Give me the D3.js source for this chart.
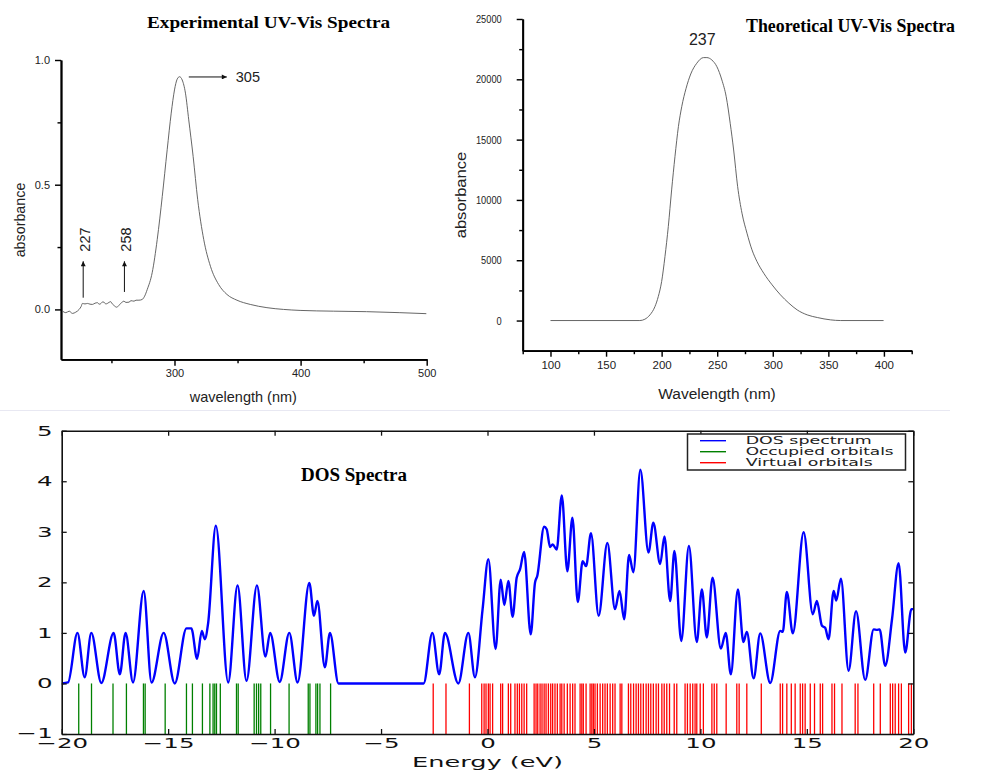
<!DOCTYPE html>
<html><head><meta charset="utf-8">
<script src="https://cdn.jsdelivr.net/npm/d3@7"></script>
<style>
html,body{margin:0;padding:0;background:#fff;}
svg{display:block;}
</style></head><body>
<svg id="c" width="985" height="776"></svg>
<script>
// ---------------- DATA ----------------
// Experimental UV-Vis (wavelength nm, absorbance)
const expWavelength = [211.2,213.8,216.5,219.1,221.7,224.4,226.0,227,229,231,233,234.9,237,238.9,240.2,241.5,243,244.1,245.5,246.8,248,249.4,250.7,252,254.1,255.5,257.3,258.6,259.9,261.5,263.9,265.5,267.9,269.5,271.8,274.4,276.3,278.4,282.3,286.3,290.3,294.2,297.4,300,302.1,304.0,306.1,308.7,311.3,314.8,318.4,323.2,328.5,335,341.6,349.5,360.1,373.3,386.4,399.6,426,452.3,478.7,499.7];
const expAbsorbance = [-0.007,-0.013,-0.007,-0.016,-0.011,0.0,0.012,0.024,0.022,0.024,0.021,0.02,0.025,0.027,0.021,0.023,0.03,0.029,0.022,0.024,0.028,0.031,0.022,0.016,0.009,0.014,0.023,0.03,0.033,0.028,0.029,0.035,0.033,0.037,0.037,0.04,0.053,0.08,0.147,0.28,0.453,0.64,0.787,0.88,0.923,0.933,0.92,0.867,0.76,0.613,0.44,0.28,0.173,0.1,0.06,0.037,0.02,0.007,0.0,-0.004,-0.007,-0.009,-0.013,-0.017];
const expXTicks = [300,400,500];
const expXMinor = [250,350,450];
const expYTicks = [0.0,0.5,1.0];
const expYMinor = [0.25,0.75];
const expPeaks = [305,227,258];

// Theoretical UV-Vis
const theoWavelength = [100,180.4,184.9,189.5,194,197,200,203,206,209,212,215.1,218.1,222,226.2,231.6,237.7,240.7,245.2,249.7,254.2,258.1,261.7,264.8,268.4,272.3,276.8,281.3,285.8,291.9,299.4,306.9,314.5,322,331,340.1,352.1,361.1,399.7];
const theoAbsorbance = [0,0,110,470,1160,1990,3230,5300,7790,10830,13590,16080,17735,19250,20440,21330,21800,21800,21600,21050,19945,18560,16350,14140,11100,8900,7240,5860,4890,3920,2960,2130,1440,880,470,250,55,0,0];
const theoXTicks = [100,150,200,250,300,350,400];
const theoXMinor = [75,125,175,225,275,325,375,425];
const theoYTicks = [0,5000,10000,15000,20000,25000];
const theoYMinor = [2500,7500,12500,17500,22500];
const theoPeak = 237;

// DOS spectrum (energy eV, DOS)
const dosEnergy = [-20,-19.7,-19.26,-18.92,-18.61,-18.14,-17.56,-17.27,-17.0,-16.65,-16.15,-15.78,-15.21,-14.69,-14.14,-13.91,-13.64,-13.42,-13.28,-13.12,-12.76,-12.18,-11.74,-11.32,-10.83,-10.43,-10.21,-9.76,-9.31,-8.92,-8.37,-8.15,-7.99,-7.64,-7.40,-7.0,-3.0,-2.59,-2.27,-2.0,-1.37,-0.90,-0.59,-0.23,0.04,0.38,0.62,0.79,0.98,1.18,1.37,1.53,1.72,2.03,2.23,2.34,2.66,2.78,2.94,3.06,3.25,3.49,3.75,3.99,4.24,4.47,4.63,4.86,5.22,5.63,5.99,6.20,6.42,6.65,6.85,7.18,7.56,7.79,8.11,8.31,8.58,8.78,9.10,9.46,9.83,10.07,10.30,10.57,10.96,11.19,11.43,11.76,12.02,12.18,12.50,12.81,13.28,13.75,13.87,14.06,14.34,14.85,15.28,15.47,15.71,15.86,16.02,16.26,16.38,16.60,16.96,17.31,17.74,18.14,18.29,18.42,18.68,19.0,19.31,19.62,19.91,20.0];
const dosValue = [0,0.02,1.0,0.12,1.0,0.01,1.0,0.18,1.0,0.02,1.83,0.02,1.0,0.0,1.09,1.09,0.49,1.04,0.875,1.2,3.12,0.02,1.94,0.05,1.94,0.53,1.0,0.03,1.0,0.02,1.99,1.34,1.63,0.32,1.0,0.0,0.0,1.0,0.18,1.0,0.0,1.0,0.12,1.47,2.46,0.68,2.05,1.55,2.03,1.32,2.09,2.26,2.6,0.97,1.99,2.13,3.10,3.05,2.70,2.75,2.65,3.72,2.22,3.28,1.61,2.42,2.32,2.97,1.34,2.78,1.47,1.83,1.27,2.54,2.20,4.23,2.59,3.18,2.36,2.91,1.63,2.62,0.84,2.72,0.82,1.86,0.91,2.09,0.69,1.0,0.18,1.86,0.82,1.02,0.1,0.99,0.01,1.04,1.02,1.81,0.99,2.99,1.37,1.63,1.14,1.1,0.875,1.83,1.64,2.07,0.25,1.43,0.07,1.07,1.06,1.07,0.35,1.27,2.38,0.61,1.47,1.47];
const occupiedOrbitals = [-19.20,-18.60,-17.59,-16.96,-16.16,-16.08,-15.14,-14.14,-13.86,-13.39,-13.04,-12.89,-12.81,-12.73,-12.55,-11.79,-11.71,-10.96,-10.85,-10.75,-10.65,-10.19,-9.32,-8.42,-8.34,-8.06,-7.98,-7.87,-7.37];
const virtualOrbitals = [-2.55,-1.95,-0.85,-0.27,-0.16,-0.07,0.04,0.12,0.24,0.62,0.71,0.98,1.09,1.29,1.40,1.50,1.61,1.72,1.84,2.19,2.28,2.36,2.47,2.56,2.66,2.75,2.86,2.97,3.06,3.17,3.28,3.41,3.49,3.60,3.75,3.88,4.00,4.11,4.35,4.43,4.50,4.63,4.82,4.90,4.97,5.05,5.16,5.29,5.41,5.52,5.63,5.76,5.88,5.99,6.23,6.31,6.62,6.73,6.86,6.98,7.09,7.20,7.32,7.45,7.56,7.67,7.79,7.92,8.03,8.19,8.30,8.42,8.55,8.77,8.89,9.28,9.39,9.52,9.64,9.75,9.83,9.99,10.14,10.54,10.65,10.77,11.21,11.71,11.82,12.18,12.86,13.75,13.86,14.06,14.27,14.45,14.69,14.80,14.92,15.16,15.36,15.63,15.74,16.18,16.30,16.65,17.27,17.40,18.14,18.45,18.92,19.03,19.15,19.31,19.44,19.78,19.91];
const dosXTicks = [-20,-15,-10,-5,0,5,10,15,20];
const dosYTicks = [-1,0,1,2,3,4,5];
const legendLabels = ["DOS spectrum","Occupied orbitals","Virtual orbitals"];
const legendColors = ["#0000ff","#008000","#ff0000"];

// ---------------- DRAW ----------------
const svg = d3.select("#c");
svg.append("rect").attr("width",985).attr("height",776).attr("fill","#fff");
const sans = "'Liberation Sans', Arial, sans-serif";
const serif = "'Liberation Serif', 'Times New Roman', serif";
const dv = "'DejaVu Sans', sans-serif";

const defs = svg.append("defs");
defs.append("marker").attr("id","arr").attr("viewBox","0 0 10 10").attr("refX",10).attr("refY",5)
  .attr("markerWidth",7).attr("markerHeight",5).attr("markerUnits","userSpaceOnUse").attr("orient","auto")
  .append("path").attr("d","M0,0 L10,5 L0,10 z").attr("fill","#111");

function styleAxis(g, w, col){
  g.select(".domain").attr("stroke",col||"#000").attr("stroke-width",w);
  g.selectAll(".tick line").attr("stroke",col||"#000").attr("stroke-width",w*0.8);
}

// ===== Panel 1: experimental =====
const x1 = d3.scaleLinear().domain([210,500]).range([61,426.7]);
const y1 = d3.scaleLinear().domain([-0.2,1.0]).range([359.3,60]);
const p1 = svg.append("g");
let g;
g = p1.append("g").attr("transform","translate(61,0)")
  .call(d3.axisLeft(y1).tickValues(expYMinor).tickSize(3.5).tickFormat("").tickSizeOuter(0));
styleAxis(g,1.8);
g = p1.append("g").attr("transform","translate(61,0)")
  .call(d3.axisLeft(y1).tickValues(expYTicks).tickSize(6).tickPadding(5).tickFormat(d3.format(".1f")).tickSizeOuter(0));
styleAxis(g,1.8);
g.selectAll("text").attr("font-family",sans).attr("font-size",11).attr("fill","#222");
g = p1.append("g").attr("transform","translate(0,359.3)")
  .call(d3.axisBottom(x1).tickValues(expXMinor).tickSize(4).tickFormat("").tickSizeOuter(0));
styleAxis(g,1.8);
g = p1.append("g").attr("transform","translate(0,359.3)")
  .call(d3.axisBottom(x1).tickValues(expXTicks).tickSize(6.5).tickPadding(3).tickFormat(d3.format("d")).tickSizeOuter(0));
styleAxis(g,1.8);
g.selectAll("text").attr("font-family",sans).attr("font-size",11).attr("fill","#222");

p1.append("path").datum(d3.zip(expWavelength,expAbsorbance))
  .attr("fill","none").attr("stroke","#555").attr("stroke-width",0.9)
  .attr("d",d3.line().x(d=>x1(d[0])).y(d=>y1(d[1])).curve(d3.curveMonotoneX));

p1.append("text").attr("x",268.5).attr("y",27.7).attr("text-anchor","middle")
  .attr("font-family",serif).attr("font-weight","bold").attr("font-size",17.5)
  .attr("textLength",243).attr("lengthAdjust","spacingAndGlyphs").text("Experimental UV-Vis Spectra");
p1.append("text").attr("transform","translate(24.5,220) rotate(-90)").attr("text-anchor","middle")
  .attr("font-family",sans).attr("font-size",14.3).attr("fill","#222").text("absorbance");
p1.append("text").attr("x",243.3).attr("y",401.5).attr("text-anchor","middle")
  .attr("font-family",sans).attr("font-size",14.5).attr("fill","#222").text("wavelength (nm)");

// annotations
const pk = expPeaks[0];
p1.append("line").attr("x1",x1(pk)+8).attr("x2",x1(pk)+46).attr("y1",y1(0.932)).attr("y2",y1(0.932))
  .attr("stroke","#111").attr("stroke-width",1).attr("marker-end","url(#arr)");
p1.append("text").attr("x",x1(pk)+55).attr("y",y1(0.932)+5).attr("font-family",sans).attr("font-size",14.5)
  .attr("fill","#222").text(String(pk));
[[expPeaks[1],227.6,0.047],[expPeaks[2],260.3,0.07]].forEach(([lab,nm,v])=>{
  p1.append("line").attr("x1",x1(nm)).attr("x2",x1(nm)).attr("y1",y1(v)).attr("y2",y1(0.193))
    .attr("stroke","#111").attr("stroke-width",1).attr("marker-end","url(#arr)");
  p1.append("text").attr("transform",`translate(${x1(nm)+7},${y1(0.28)}) rotate(-90)`).attr("text-anchor","middle")
    .attr("font-family",sans).attr("font-size",14.5).attr("fill","#222").text(String(lab));
});

// ===== Panel 2: theoretical =====
const x2 = d3.scaleLinear().domain([75,425]).range([522.7,911.7]);
const y2 = d3.scaleLinear().domain([-2500,25000]).range([350.7,19]);
const p2 = svg.append("g");
g = p2.append("g").attr("transform","translate(522.7,0)")
  .call(d3.axisLeft(y2).tickValues(theoYMinor).tickSize(3.5).tickFormat("").tickSizeOuter(0));
styleAxis(g,1.8);
g = p2.append("g").attr("transform","translate(522.7,0)")
  .call(d3.axisLeft(y2).tickValues(theoYTicks).tickSize(6).tickPadding(15).tickFormat(d3.format("d")).tickSizeOuter(0));
styleAxis(g,1.8);
g.selectAll("text").attr("font-family",sans).attr("font-size",11.5).attr("fill","#222")
  .attr("textLength",d=>String(d).length*5.15).attr("lengthAdjust","spacingAndGlyphs");
g = p2.append("g").attr("transform","translate(0,350.7)")
  .call(d3.axisBottom(x2).tickValues(theoXMinor).tickSize(3.5).tickFormat("").tickSizeOuter(0));
styleAxis(g,1.8);
g = p2.append("g").attr("transform","translate(0,350.7)")
  .call(d3.axisBottom(x2).tickValues(theoXTicks).tickSize(6).tickPadding(4).tickFormat(d3.format("d")).tickSizeOuter(0));
styleAxis(g,1.8);
g.selectAll("text").attr("font-family",sans).attr("font-size",11.5).attr("fill","#222");

p2.append("path").datum(d3.zip(theoWavelength,theoAbsorbance))
  .attr("fill","none").attr("stroke","#555").attr("stroke-width",0.9)
  .attr("d",d3.line().x(d=>x2(d[0])).y(d=>y2(d[1])).curve(d3.curveMonotoneX));

p2.append("text").attr("x",746).attr("y",31.7)
  .attr("font-family",serif).attr("font-weight","bold").attr("font-size",18)
  .attr("textLength",209).attr("lengthAdjust","spacingAndGlyphs").text("Theoretical UV-Vis Spectra");
p2.append("text").attr("x",x2(theoPeak)-0.5).attr("y",44.5).attr("text-anchor","middle")
  .attr("font-family",sans).attr("font-size",16).attr("fill","#222").text(String(theoPeak));
p2.append("text").attr("transform","translate(466,195) rotate(-90)").attr("text-anchor","middle")
  .attr("font-family",sans).attr("font-size",15).attr("fill","#222")
  .attr("textLength",86.7).attr("lengthAdjust","spacingAndGlyphs").text("absorbance");
p2.append("text").attr("x",717).attr("y",399.3).attr("text-anchor","middle")
  .attr("font-family",sans).attr("font-size",15.5).attr("fill","#222").text("Wavelength (nm)");

// divider
svg.append("line").attr("x1",0).attr("x2",950).attr("y1",410.5).attr("y2",410.5)
  .attr("stroke","#e8e8f2").attr("stroke-width",1);

// ===== Panel 3: DOS =====
const xD = d3.scaleLinear().domain([-20,20]).range([61.7,913.3]);
const yD = d3.scaleLinear().domain([-1,5]).range([734,430.7]);
const p3 = svg.append("g");
const SX = 1.75;
const fmt = d3.format("d");

// orbitals
p3.append("g").selectAll("line").data(occupiedOrbitals).join("line")
  .attr("x1",d=>xD(d)).attr("x2",d=>xD(d)).attr("y1",yD(0)).attr("y2",yD(-1))
  .attr("stroke","#008000").attr("stroke-width",1.3);
p3.append("g").selectAll("line").data(virtualOrbitals).join("line")
  .attr("x1",d=>xD(d)).attr("x2",d=>xD(d)).attr("y1",yD(0)).attr("y2",yD(-1))
  .attr("stroke","#ff0000").attr("stroke-width",1.3);

// DOS curve
p3.append("clipPath").attr("id","dclip").append("rect")
  .attr("x",xD(-20)).attr("y",yD(5)).attr("width",xD(20)-xD(-20)).attr("height",yD(-1)-yD(5));
p3.append("path").datum(d3.zip(dosEnergy,dosValue)).attr("clip-path","url(#dclip)")
  .attr("fill","none").attr("stroke","#0000ff").attr("stroke-width",2.4).attr("stroke-linejoin","round")
  .attr("d",d3.line().x(d=>xD(d[0])).y(d=>yD(d[1])).curve(d3.curveMonotoneX));

// axes (ticks inward on all sides)
g = p3.append("g").attr("transform",`translate(0,${yD(-1)})`)
  .call(d3.axisBottom(xD).tickValues(dosXTicks).tickSize(-5).tickPadding(3).tickFormat(fmt).tickSizeOuter(0));
styleAxis(g,1.6,"#111");
g.selectAll("text").attr("font-family",dv).attr("font-size",14).attr("fill","#111")
  .attr("transform",`scale(${SX},1)`).attr("dy","0.76em");
g = p3.append("g").attr("transform",`translate(${xD(-20)},0)`)
  .call(d3.axisLeft(yD).tickValues(dosYTicks).tickSize(-5).tickPadding(9).tickFormat(fmt).tickSizeOuter(0));
styleAxis(g,1.6,"#111");
g.selectAll("text").attr("font-family",dv).attr("font-size",14).attr("fill","#111")
  .attr("transform",`scale(${SX},1)`).attr("x",-9/SX);
g.selectAll(".tick").filter(d=>d===-1).select("text").attr("dy","0.22em");
g = p3.append("g").attr("transform",`translate(0,${yD(5)})`)
  .call(d3.axisTop(xD).tickValues(dosXTicks).tickSize(-5).tickFormat("").tickSizeOuter(0));
styleAxis(g,1.6,"#111");
g = p3.append("g").attr("transform",`translate(${xD(20)},0)`)
  .call(d3.axisRight(yD).tickValues(dosYTicks).tickSize(-5).tickFormat("").tickSizeOuter(0));
styleAxis(g,1.6,"#111");

p3.append("text").attr("x",xD(0)).attr("y",766.7).attr("text-anchor","middle")
  .attr("font-family",dv).attr("font-size",14).attr("fill","#111")
  .attr("textLength",151).attr("lengthAdjust","spacingAndGlyphs").text("Energy (eV)");
p3.append("text").attr("x",301).attr("y",481)
  .attr("font-family",serif).attr("font-weight","bold").attr("font-size",18)
  .attr("textLength",106).attr("lengthAdjust","spacingAndGlyphs").text("DOS Spectra");

// legend
const lg = p3.append("g");
lg.append("rect").attr("x",687.5).attr("y",434).attr("width",218).attr("height",36)
  .attr("fill","#fff").attr("stroke","#222").attr("stroke-width",1.5);
const legW = [126,148,127];
legendLabels.forEach((t,i)=>{
  const yy = 440.7 + i*11;
  lg.append("line").attr("x1",700).attr("x2",726).attr("y1",yy).attr("y2",yy)
    .attr("stroke",legendColors[i]).attr("stroke-width",1.4);
  lg.append("text").attr("x",745.7).attr("y",yy+3.6).attr("font-family",dv).attr("font-size",10.5)
    .attr("fill","#222").attr("textLength",legW[i]).attr("lengthAdjust","spacingAndGlyphs").text(t);
});
</script>
</body></html>
